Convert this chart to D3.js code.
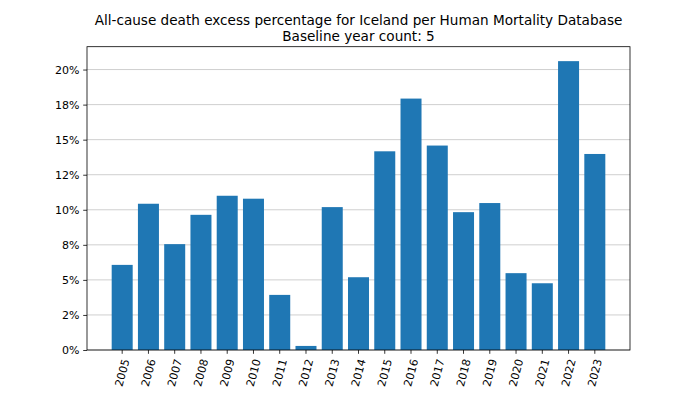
<!DOCTYPE html>
<html><head><meta charset="utf-8">
<script src="https://cdn.jsdelivr.net/npm/d3@7"></script>
<style>body{margin:0;background:#fff}svg{display:block}text{font-family:"DejaVu Sans",sans-serif;fill:#000}</style>
</head><body>
<script>
const years = ["2005","2006","2007","2008","2009","2010","2011","2012","2013","2014","2015","2016","2017","2018","2019","2020","2021","2022","2023"];
const excessPct = [6.07,10.43,7.55,9.64,11.0,10.79,3.93,0.29,10.19,5.19,14.17,17.93,14.58,9.83,10.48,5.48,4.76,20.6,13.98];
const yTickValues = [0,2.5,5,7.5,10,12.5,15,17.5,20];
const yTickLabels = ["0%","2%","5%","8%","10%","12%","15%","18%","20%"];
const titleLines = ["All-cause death excess percentage for Iceland per Human Mortality Database","Baseline year count: 5"];

const W=700,H=394;
const L=87,R=630,T=46.7,B=350;
const FS=11, TL=3.8;
const svg=d3.select("body").append("svg").attr("width",W).attr("height",H);

const x=d3.scaleBand().domain(years).range([L,R]).paddingInner(0.2).paddingOuter(0.94);
const y=d3.scaleLinear().domain([0,d3.max(excessPct)*1.05]).range([B,T]);

// grid
svg.append("g").selectAll("line").data(yTickValues).join("line")
  .attr("x1",L).attr("x2",R).attr("y1",d=>y(d)).attr("y2",d=>y(d))
  .attr("stroke","#cfcfcf").attr("stroke-width",1);

// bars
svg.append("g").selectAll("rect").data(excessPct).join("rect")
  .attr("x",(d,i)=>x(years[i])).attr("width",x.bandwidth())
  .attr("y",d=>y(d)).attr("height",d=>B-y(d)).attr("fill","#1f77b4");

// frame
svg.append("rect").attr("x",L).attr("y",T).attr("width",R-L).attr("height",B-T)
  .attr("fill","none").attr("stroke","#000").attr("stroke-width",0.8);

// y axis
const yAxis=svg.append("g").attr("transform",`translate(${L},0)`)
  .call(d3.axisLeft(y).tickValues(yTickValues).tickSize(TL).tickPadding(TL)
  .tickFormat((d,i)=>yTickLabels[i]));
yAxis.select(".domain").remove();
yAxis.selectAll("line").attr("stroke","#000").attr("stroke-width",0.8);
yAxis.selectAll("text").attr("font-size",FS).attr("font-family","DejaVu Sans").attr("fill","#000");

// x axis
const xAxis=svg.append("g").attr("transform",`translate(0,${B})`)
  .call(d3.axisBottom(x).tickSize(TL).tickSizeOuter(0));
xAxis.select(".domain").remove();
xAxis.selectAll("line").attr("stroke","#000").attr("stroke-width",0.8);
xAxis.selectAll("text").attr("font-size",FS).attr("font-family","DejaVu Sans").attr("fill","#000")
  .each(function(){
    const t=d3.select(this);
    const w=this.getComputedTextLength();
    const fh=FS*1.16;
    const a=75*Math.PI/180;
    const h=w*Math.sin(a)+fh*Math.cos(a);
    t.attr("y",0).attr("dy","0.35em").attr("text-anchor","middle")
     .attr("transform",`translate(0,${TL+TL+h/2}) rotate(-75)`);
  });

// title
svg.append("g").selectAll("text").data(titleLines).join("text")
  .attr("x",(L+R)/2).attr("y",(d,i)=>25+i*15.8).attr("text-anchor","middle")
  .attr("font-size",13.6).text(d=>d);
</script>
</body></html>
